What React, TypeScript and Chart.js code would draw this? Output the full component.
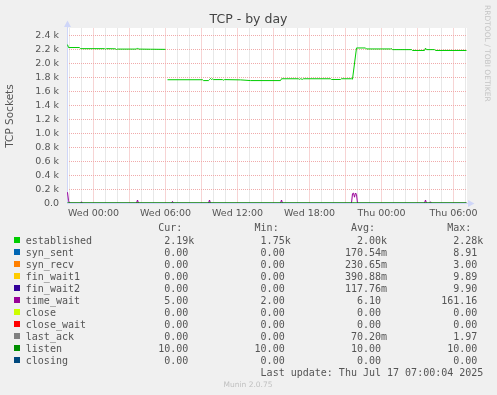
import React, { useEffect, useRef } from 'react';
import { Chart, registerables } from 'chart.js';

Chart.register(...registerables);

// ---------- data ----------
const seriesNames = ['established', 'syn_sent', 'syn_recv', 'fin_wait1', 'fin_wait2', 'time_wait', 'close', 'close_wait', 'last_ack', 'listen', 'closing'];
const seriesColors = ['#00CC00', '#0066B3', '#FF8000', '#FFCC00', '#330099', '#990099', '#CCFF00', '#FF0000', '#808080', '#008F00', '#00487D'];
const curValues = ['2.19k', '0.00', '0.00', '0.00', '0.00', '5.00', '0.00', '0.00', '0.00', '10.00', '0.00'];
const minValues = ['1.75k', '0.00', '0.00', '0.00', '0.00', '2.00', '0.00', '0.00', '0.00', '10.00', '0.00'];
const avgValues = ['2.00k', '170.54m', '230.65m', '390.88m', '117.76m', '6.10', '0.00', '0.00', '70.20m', '10.00', '0.00'];
const maxValues = ['2.28k', '8.91', '3.00', '9.89', '9.90', '161.16', '0.00', '0.00', '1.97', '10.00', '0.00'];

// hours relative to Wed 00:00
const establishedHours = [-2.167, -2.083, -1.167, -1.083, 0.917, 1.0, 1.083, 1.833, 1.917, 2.0, 3.583, 3.667, 3.75, 4.75, 6.0, 6.083, 6.167, 9.083, 9.167, 9.583, 9.667, 9.75, 9.833, 9.917, 10.0, 10.75, 10.833, 10.917, 12.25, 13.083, 15.583, 15.667, 17.083, 17.167, 17.25, 17.417, 17.5, 19.75, 19.833, 20.583, 20.667, 21.5, 21.583, 21.917, 22.667, 22.75, 24.75, 24.833, 24.917, 26.5, 26.583, 27.583, 27.667, 27.75, 28.417, 28.5, 31.083];
const establishedValues = [2270, 2228, 2228, 2212, 2212, 2205, 2212, 2210, 2200, 2206, 2206, 2222, 2206, 2204, 2202, null, 1768, 1768, 1756, 1756, 1770, 1786, 1772, 1780, 1770, 1770, 1762, 1770, 1766, 1756, 1756, 1782, 1782, 1774, 1782, 1774, 1782, 1782, 1772, 1772, 1782, 1782, 1776, 2222, 2222, 2208, 2208, 2214, 2198, 2198, 2186, 2186, 2220, 2198, 2198, 2186, 2186];

const synSentHours = [-2.167, 9.583, 9.667, 9.75, 31.083];
const synSentValues = [0, 0, 8.91, 0, 0];
const synRecvHours = [-2.167, 21.583, 21.667, 21.75, 31.083];
const synRecvValues = [0, 0, 3, 0, 0];
const finWait1Hours = [-2.167, 3.583, 3.667, 3.75, 31.083];
const finWait1Values = [0, 0, 9.89, 0, 0];
const finWait2Hours = [-2.167, -1.083, -1.0, -0.917, 31.083];
const finWait2Values = [0, 0, 9.9, 0, 0];
const timeWaitHours = [-2.167, -2.083, -2.0, -1.083, -1.0, -0.917, 3.583, 3.667, 3.75, 6.5, 6.583, 6.667, 9.583, 9.667, 9.75, 15.583, 15.667, 15.75, 21.5, 21.583, 21.667, 21.75, 21.833, 21.917, 22.0, 27.583, 27.667, 27.75, 28.0, 28.083, 28.167, 31.083];
const timeWaitValues = [161, 40, 5, 4, 25, 4, 4, 50, 4, 4, 30, 4, 4, 50, 4, 4, 50, 4, 4, 140, 148, 90, 150, 130, 4, 4, 50, 4, 4, 25, 4, 5];
const closeHours = [-2.167, 31.083];
const closeValues = [0, 0];
const closeWaitHours = [-2.167, 31.083];
const closeWaitValues = [0, 0];
const lastAckHours = [-2.167, 15.583, 15.667, 15.75, 31.083];
const lastAckValues = [0, 0, 1.97, 0, 0];
const listenHours = [-2.167, 31.083];
const listenValues = [10, 10];
const closingHours = [-2.167, 31.083];
const closingValues = [0, 0];

const seriesHours = [establishedHours, synSentHours, synRecvHours, finWait1Hours, finWait2Hours, timeWaitHours, closeHours, closeWaitHours, lastAckHours, listenHours, closingHours];
const seriesValues = [establishedValues, synSentValues, synRecvValues, finWait1Values, finWait2Values, timeWaitValues, closeValues, closeWaitValues, lastAckValues, listenValues, closingValues];

const xLabelHours = [0, 6, 12, 18, 24, 30];
const xLabels = ['Wed 00:00', 'Wed 06:00', 'Wed 12:00', 'Wed 18:00', 'Thu 00:00', 'Thu 06:00'];
const yLabelValues = [0, 200, 400, 600, 800, 1000, 1200, 1400, 1600, 1800, 2000, 2200, 2400];
const yLabels = ['0.0', '0.2 k', '0.4 k', '0.6 k', '0.8 k', '1.0 k', '1.2 k', '1.4 k', '1.6 k', '1.8 k', '2.0 k', '2.2 k', '2.4 k'];

const titleText = 'TCP - by day';
const yTitle = 'TCP Sockets';
const lastUpdate = 'Last update: Thu Jul 17 07:00:04 2025';
const footer = 'Munin 2.0.75';
const watermark = 'RRDTOOL / TOBI OETIKER';

// ---------- style ----------
const X_MIN = -2.2083;
const X_MAX = 31.125;
const Y_MAX = 2500;
const TEXT = '#555555';
const AXIS = '#CFD6F8';
const GRID_MAJOR = '#F0AAAA';
const GRID_MINOR = '#D2D2D2';
const SANS = '"DejaVu Sans", sans-serif';
const MONO = '"DejaVu Sans Mono", monospace';

const xGrid: number[] = [];
for (let h = -2; h <= 31; h++) xGrid.push(h);
const yGrid: number[] = [];
for (let v = 0; v <= Y_MAX; v += 100) yGrid.push(v);

const decor = {
  id: 'decor',
  beforeDraw(chart: any) {
    const { ctx, chartArea: a } = chart;
    ctx.save();
    ctx.fillStyle = '#F0F0F0';
    ctx.fillRect(0, 0, chart.width, chart.height);
    ctx.fillStyle = '#FFFFFF';
    ctx.fillRect(a.left, Math.floor(a.top), a.right - a.left, a.bottom - a.top);
    ctx.restore();
  },
  beforeDatasetsDraw(chart: any) {
    const { ctx, chartArea: a } = chart;
    ctx.save();
    ctx.fillStyle = AXIS;
    ctx.fillRect(a.left, 24, 1, a.bottom - 24);
    ctx.beginPath();
    ctx.moveTo(a.left - 3, 27);
    ctx.lineTo(a.left + 0.5, 20.5);
    ctx.lineTo(a.left + 4, 27);
    ctx.closePath();
    ctx.fill();
    ctx.restore();
  },
  afterDatasetsDraw(chart: any) {
    const { ctx, chartArea: a } = chart;
    ctx.save();
    ctx.fillStyle = AXIS;
    const y = Math.floor(a.bottom);
    ctx.fillRect(a.left, y, a.right - a.left + 4, 1);
    ctx.beginPath();
    ctx.moveTo(a.right + 1, y - 3);
    ctx.lineTo(a.right + 7.5, y + 0.5);
    ctx.lineTo(a.right + 1, y + 4);
    ctx.closePath();
    ctx.fill();
    ctx.restore();
  },
  afterDraw(chart: any) {
    const ctx = chart.ctx as CanvasRenderingContext2D;
    ctx.save();
    // title
    ctx.fillStyle = '#444444';
    ctx.font = `12.5px ${SANS}`;
    ctx.textAlign = 'center';
    ctx.textBaseline = 'alphabetic';
    ctx.fillText(titleText, 248.5, 23);
    // watermark
    ctx.save();
    ctx.translate(485, 5);
    ctx.rotate(Math.PI / 2);
    ctx.fillStyle = '#C4C4C4';
    ctx.font = `7.5px ${SANS}`;
    ctx.textAlign = 'left';
    ctx.fillText(watermark, 0, 0);
    ctx.restore();
    // legend
    ctx.font = `10px ${MONO}`;
    ctx.textAlign = 'left';
    const cw = ctx.measureText('0').width;
    const x0 = 25.8;
    ctx.fillStyle = TEXT;
    const heads = ['Cur:', 'Min:', 'Avg:', 'Max:'];
    heads.forEach((h, k) => ctx.fillText(h, x0 + (22 + 16 * k) * cw, 231));
    const cols = [curValues, minValues, avgValues, maxValues];
    seriesNames.forEach((name, i) => {
      const base = 243.5 + 12 * i;
      ctx.fillStyle = seriesColors[i];
      ctx.fillRect(14, 237 + 12 * i, 6, 6);
      ctx.fillStyle = TEXT;
      ctx.fillText(name, x0, base);
      cols.forEach((col, k) => {
        const s = col[i];
        const hasSuffix = /[km]$/.test(s);
        const numLen = hasSuffix ? s.length - 1 : s.length;
        ctx.fillText(s, x0 + (27 - numLen + 16 * k) * cw, base);
      });
    });
    ctx.fillText(lastUpdate, x0 + 39 * cw, 375.5);
    // footer
    ctx.fillStyle = '#C0C0C0';
    ctx.font = `7.5px ${SANS}`;
    ctx.textAlign = 'center';
    ctx.fillText(footer, 248, 387);
    ctx.restore();
  },
};

export default function App() {
  const ref = useRef<HTMLCanvasElement>(null);
  useEffect(() => {
    const canvas = ref.current;
    if (!canvas) return;
    const datasets = seriesNames.map((name, i) => ({
      label: name,
      data: seriesHours[i].map((h, j) => ({ x: h, y: seriesValues[i][j] })),
      borderColor: seriesColors[i],
      backgroundColor: seriesColors[i],
      borderWidth: 1,
      pointRadius: 0,
      fill: false,
      tension: 0,
      spanGaps: false,
      order: seriesNames.length - i,
    }));
    const chart = new Chart(canvas, {
      type: 'line',
      data: { datasets } as any,
      plugins: [decor],
      options: {
        animation: false,
        responsive: false,
        devicePixelRatio: 1,
        layout: { padding: { left: 0, right: 30, top: 28.5, bottom: 0 } },
        plugins: { legend: { display: false }, tooltip: { enabled: false }, title: { display: false } },
        scales: {
          x: {
            type: 'linear',
            min: X_MIN,
            max: X_MAX,
            afterFit: (s: any) => { s.height = 191.5; },
            afterBuildTicks: (s: any) => { s.ticks = xGrid.map((v) => ({ value: v })); },
            ticks: {
              autoSkip: false,
              maxRotation: 0,
              padding: 4,
              color: TEXT,
              font: { family: SANS, size: 9.5 },
              callback: (v: any) => { const i = xLabelHours.indexOf(Number(v)); return i >= 0 ? xLabels[i] : ''; },
            },
            grid: {
              drawTicks: false,
              lineWidth: 1,
              color: (c: any) => (c.tick && Math.abs(c.tick.value % 3) === 0 ? GRID_MAJOR : GRID_MINOR),
            },
            border: { display: false, dash: [1, 1] },
          },
          y: {
            type: 'linear',
            min: 0,
            max: Y_MAX,
            afterFit: (s: any) => { s.width = 67; },
            afterBuildTicks: (s: any) => { s.ticks = yGrid.map((v) => ({ value: v })); },
            ticks: {
              padding: 8,
              color: TEXT,
              font: { family: SANS, size: 9.5 },
              callback: (v: any) => { const i = yLabelValues.indexOf(Number(v)); return i >= 0 ? yLabels[i] : ''; },
            },
            title: { display: true, text: yTitle, color: TEXT, font: { family: SANS, size: 10.5 }, padding: { top: 4, bottom: 0 } },
            grid: {
              drawTicks: false,
              lineWidth: 1,
              color: (c: any) => (c.tick && c.tick.value % 200 === 0 ? GRID_MAJOR : GRID_MINOR),
            },
            border: { display: false, dash: [1, 1] },
          },
        },
      } as any,
    });
    return () => chart.destroy();
  }, []);
  return (
    <div style={{ position: 'absolute', left: 0, top: 0, width: 497, height: 395, background: '#F0F0F0' }}>
      <canvas ref={ref} width={497} height={395} style={{ display: 'block', width: 497, height: 395 }} />
    </div>
  );
}
